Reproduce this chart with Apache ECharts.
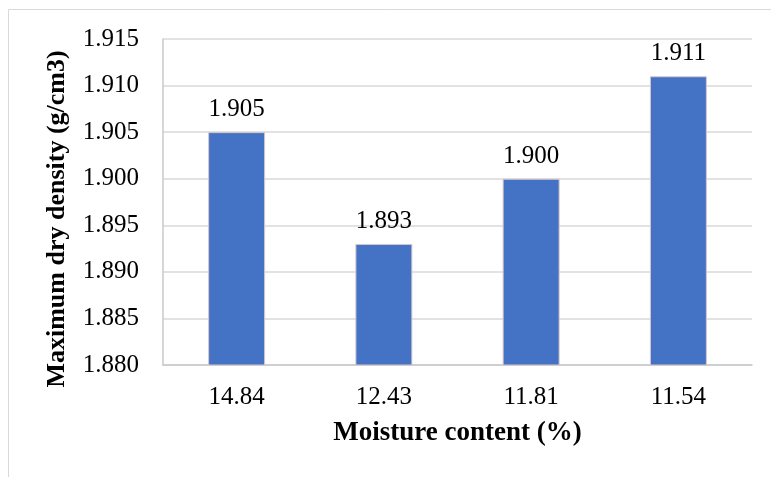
<!DOCTYPE html>
<html>
<head>
<meta charset="utf-8">
<script src="https://cdn.jsdelivr.net/npm/echarts@6/dist/echarts.min.js"></script>
<style>
  html, body { margin: 0; padding: 0; background: #fff; }
  #chart { width: 771px; height: 477px; }
</style>
</head>
<body>
<div id="chart"></div>
<script>
var moisture = ['14.84', '12.43', '11.81', '11.54'];
var density = [1.905, 1.893, 1.900, 1.911];
var yMin = 1.880, yMax = 1.915, yStep = 0.005;

function draw_density_chart() {
  var chart = echarts.init(document.getElementById('chart'));
  var font = '"Liberation Serif", "Times New Roman", serif';
  var option = {
    animation: false,
    graphic: [
      // outer frame (only top/left visible in the crop)
      { type: 'line', shape: { x1: 8.5, y1: 9.5, x2: 771, y2: 9.5 }, style: { stroke: '#d9d9d9', lineWidth: 1 } },
      { type: 'line', shape: { x1: 8.5, y1: 9.5, x2: 8.5, y2: 477 }, style: { stroke: '#d9d9d9', lineWidth: 1 } }
    ],
    grid: { left: 163, top: 39, right: 19, bottom: 112 },
    xAxis: {
      type: 'category',
      data: moisture,
      name: 'Moisture content (%)',
      nameLocation: 'middle',
      nameGap: 55,
      nameTextStyle: { fontFamily: font, fontWeight: 'bold', fontSize: 27, color: '#000' },
      axisLine: { lineStyle: { color: '#c9c9c9', width: 1.5 } },
      axisTick: { show: false },
      axisLabel: { fontFamily: font, fontSize: 25, color: '#000', margin: 20 }
    },
    yAxis: {
      type: 'value',
      min: yMin,
      max: yMax,
      interval: yStep,
      name: 'Maximum dry density (g/cm3)',
      nameLocation: 'middle',
      nameGap: 93,
      nameTextStyle: {
        fontFamily: font, fontWeight: 'bold', fontSize: 26, color: '#000',
        padding: [0, 34, 0, 0]
      },
      axisLine: { show: true, lineStyle: { color: '#c9c9c9', width: 1.5 } },
      axisTick: { show: false },
      splitLine: { lineStyle: { color: '#d9d9d9', width: 1.5 } },
      axisLabel: {
        fontFamily: font, fontSize: 25, color: '#000', margin: 24,
        formatter: function (v) { return v.toFixed(3); }
      }
    },
    series: [{
      type: 'bar',
      data: density,
      barWidth: 57,
      itemStyle: { color: '#4472c4', borderColor: '#d8c8cc', borderWidth: 1 },
      label: {
        show: true,
        position: 'top',
        distance: 10,
        fontFamily: font,
        fontSize: 25,
        color: '#000',
        formatter: function (p) { return p.value.toFixed(3); }
      }
    }]
  };
  chart.setOption(option);
  window.addEventListener('resize', function () {
    chart.resize();
  });
}

draw_density_chart();
</script>
</body>
</html>
